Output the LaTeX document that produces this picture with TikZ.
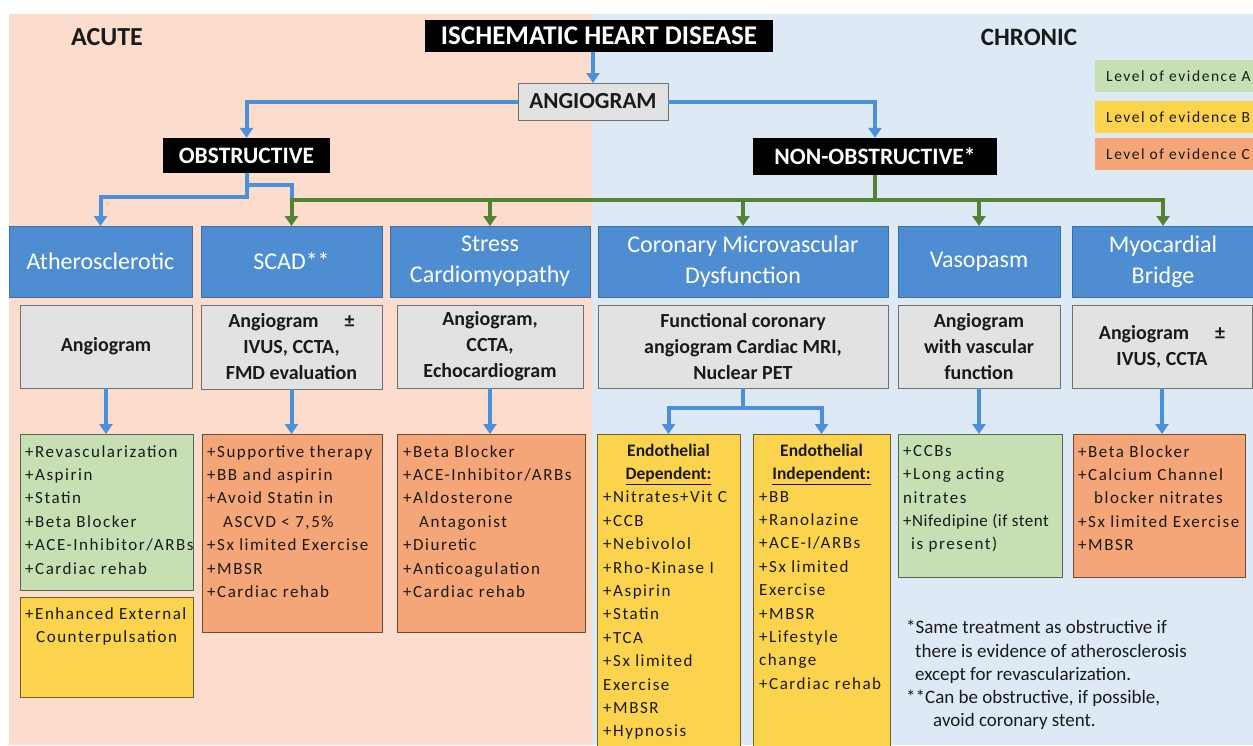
\documentclass[tikz,border=0pt]{standalone}
\usepackage{fontspec}
\setmainfont{Carlito}
\newfontfamily\trtfont[LetterSpace=9]{Carlito}
\newfontfamily\trttight[LetterSpace=3]{Carlito}
\newfontfamily\legfont[LetterSpace=10]{Carlito}
\usetikzlibrary{arrows.meta}
\definecolor{peach}{HTML}{FBDCCD}
\definecolor{skyb}{HTML}{DDEAF6}
\definecolor{catblue}{HTML}{4F8DD3}
\definecolor{catedge}{HTML}{3D6FA6}
\definecolor{methgray}{HTML}{E2E2E2}
\definecolor{methedge}{HTML}{707070}
\definecolor{lvA}{HTML}{C6E0B4}
\definecolor{lvB}{HTML}{FBD34D}
\definecolor{lvC}{HTML}{F4A678}
\definecolor{arblue}{HTML}{4A90DA}
\definecolor{argreen}{HTML}{548235}
\definecolor{ink}{HTML}{1A1A1A}
\begin{document}
\begin{tikzpicture}[x=1pt,y=-1pt,
  box/.style={anchor=north west, inner sep=0pt, outer sep=0pt, draw, line width=0.8pt},
  cat/.style={box, fill=catblue, draw=catedge, text=white, align=center, font=\fontsize{24}{31}\selectfont},
  meth/.style={box, fill=methgray, draw=methedge, text=ink, align=center, font=\bfseries\fontsize{20}{26}\selectfont},
  blk/.style={fill=black, text=white, inner sep=0pt, font=\bfseries\fontsize{23.5}{26}\selectfont},
  boxA/.style={box, fill=lvA, draw=lvA!45!black},
  boxB/.style={box, fill=lvB, draw=lvB!45!black},
  boxC/.style={box, fill=lvC, draw=lvC!45!black},
  legbox/.style={anchor=north west, inner sep=0pt, minimum width=158, minimum height=32},
  legtxt/.style={anchor=west, inner sep=0pt, text=ink, font=\legfont\fontsize{15.5}{18}\selectfont},
  txt/.style={anchor=north west, inner sep=0pt, align=left, text=ink, font=\trtfont\fontsize{17}{23.4}\selectfont},
  hdr/.style={anchor=north, inner sep=0pt, align=center, text=ink, font=\bfseries\fontsize{17.5}{23.4}\selectfont},
  bline/.style={draw=arblue, line width=4pt},
  barrow/.style={bline, -{Triangle[length=10pt,width=13pt]}},
  gline/.style={draw=argreen, line width=4pt},
  garrow/.style={gline, -{Triangle[length=10pt,width=13pt]}},
]
\useasboundingbox (0,0) rectangle (1253,745);
\fill[white] (0,0) rectangle (1253,745);
\fill[peach] (9,14) rectangle (592,745);
\fill[skyb] (592,14) rectangle (1253,745);

% headings
\node[text=ink, font=\bfseries\fontsize{26}{30}\selectfont] (acute) at (107,37) {ACUTE};
\node[text=ink, font=\bfseries\fontsize{25}{30}\selectfont] (chronic) at (1029,37) {CHRONIC};
\node[blk, minimum width=348, minimum height=32, font=\bfseries\fontsize{27}{30}\selectfont] (title) at (599,36) {ISCHEMATIC HEART DISEASE};
\node[meth, minimum width=150, minimum height=37, font=\bfseries\fontsize{23}{26}\selectfont] (angio) at (518,83) {ANGIOGRAM};
\node[blk, minimum width=167, minimum height=35] (obs) at (246.5,155.5) {OBSTRUCTIVE};
\node[blk, minimum width=244, minimum height=37] (nonobs) at (875,156.5) {NON-OBSTRUCTIVE*};

% legend
\node[legbox, fill=lvA] (legA) at (1095,60) {};
\node[legtxt] (legAt) at (1106,76) {Level of evidence A};
\node[legbox, fill=lvB] (legB) at (1095,101) {};
\node[legtxt] (legBt) at (1106,117) {Level of evidence B};
\node[legbox, fill=lvC] (legC) at (1095,138) {};
\node[legtxt] (legCt) at (1106,154) {Level of evidence C};

% categories
\node[cat, minimum width=183, minimum height=71] (ath) at (9,226) {Atherosclerotic};
\node[cat, minimum width=181, minimum height=71] (scad) at (201,226) {SCAD**};
\node[cat, minimum width=200, minimum height=71] (stress) at (390,226) {Stress\\Cardiomyopathy};
\node[cat, minimum width=290, minimum height=71] (cmd) at (598,226) {Coronary Microvascular\\Dysfunction};
\node[cat, minimum width=162, minimum height=71] (vaso) at (898,226) {Vasopasm};
\node[cat, minimum width=182, minimum height=71] (myo) at (1072,226) {Myocardial\\Bridge};

% methods
\node[meth, minimum width=172, minimum height=83] (athM) at (20,305) {Angiogram};
\node[meth, minimum width=181, minimum height=84] (scadM) at (201,305) {Angiogram\hspace{1.3em}±\\IVUS, CCTA,\\FMD evaluation};
\node[meth, minimum width=186, minimum height=83] (stressM) at (397,305) {Angiogram,\\CCTA,\\Echocardiogram};
\node[meth, minimum width=290, minimum height=83] (cmdM) at (598,305) {Functional coronary\\angiogram Cardiac MRI,\\Nuclear PET};
\node[meth, minimum width=162, minimum height=83] (vasoM) at (898,305) {Angiogram\\with vascular\\function};
\node[meth, minimum width=180, minimum height=83] (myoM) at (1072,305) {Angiogram\hspace{1.3em}±\\IVUS, CCTA};

% treatments
\node[boxA, minimum width=173, minimum height=156] (athG) at (20,434) {};
\node[txt] (athGt) at (25,445) {+Revascularization\\+Aspirin\\+Statin\\+Beta Blocker\\+ACE-Inhibitor/ARBs\\+Cardiac rehab};
\node[boxB, minimum width=173, minimum height=100] (athY) at (20,597) {};
\node[txt] (athYt) at (25,607) {+Enhanced External\\\hspace*{11pt}Counterpulsation};
\node[boxC, minimum width=180, minimum height=198] (scadO) at (202,434) {};
\node[txt] (scadOt) at (207,445) {+Supportive therapy\\+BB and aspirin\\+Avoid Statin in\\\hspace*{16pt}ASCVD < 7,5\%\\+Sx limited Exercise\\+MBSR\\+Cardiac rehab};
\node[boxC, minimum width=188, minimum height=198] (stressO) at (397,434) {};
\node[txt] (stressOt) at (403,445) {+Beta Blocker\\+ACE-Inhibitor/ARBs\\+Aldosterone\\\hspace*{16pt}Antagonist\\+Diuretic\\+Anticoagulation\\+Cardiac rehab};
\node[boxB, minimum width=143, minimum height=313] (edep) at (597,434) {};
\node[hdr] (edepH) at (668.5,444) {Endothelial\\\underline{Dependent:}};
\node[txt] (edept) at (603,491) {+Nitrates+Vit C\\+CCB\\+Nebivolol\\+Rho-Kinase I\\+Aspirin\\+Statin\\+TCA\\+Sx limited\\Exercise\\+MBSR\\+Hypnosis};
\node[boxB, minimum width=137, minimum height=313] (eind) at (753,434) {};
\node[hdr] (eindH) at (821.5,444) {Endothelial\\\underline{Independent:}};
\node[txt] (eindt) at (759,491) {+BB\\+Ranolazine\\+ACE-I/ARBs\\+Sx limited\\Exercise\\+MBSR\\+Lifestyle\\change\\+Cardiac rehab};
\node[boxA, minimum width=164, minimum height=143] (vasoG) at (898,434) {};
\node[txt] (vasoGt) at (903,445) {+CCBs\\+Long acting\\nitrates\\{\trttight\fontsize{17}{23.4}\selectfont +Nifedipine (if stent}\\\hspace*{8pt}is present)};
\node[boxC, minimum width=172, minimum height=143] (myoO) at (1073,434) {};
\node[txt] (myoOt) at (1078,445) {+Beta Blocker\\+Calcium Channel\\\hspace*{16pt}blocker nitrates\\+Sx limited Exercise\\+MBSR};

% footnote
\node[anchor=north west, inner sep=0pt, align=left, text=ink, font=\fontsize{19}{23.3}\selectfont] (note) at (906,620) {*Same treatment as obstructive if\\\hspace*{9pt}there is evidence of atherosclerosis\\\hspace*{9pt}except for revascularization.\\**Can be obstructive, if possible,\\\hspace*{27pt}avoid coronary stent.};

% connectors
\coordinate (aj) at (0,197);
\coordinate (bj) at (0,185);
\coordinate (gl) at (0,200);
\coordinate (cj) at (0,408);
\draw[barrow] (angio.north |- title.south) -- (angio.north);
\draw[barrow] (angio.west) -| (obs.north);
\draw[barrow] (angio.east) -| (nonobs.north);
\draw[barrow] (obs.south) |- (aj -| ath.north) -- (ath.north);
\draw[bline] (obs.south) |- (bj -| scad.north) -- (gl -| scad.north);
\draw[gline] (nonobs.south) -- (nonobs.south |- gl);
\draw[gline] ([xshift=-2pt]gl -| scad.north) -- ([xshift=2pt]gl -| myo.north);
\foreach \n in {scad,stress,cmd,vaso,myo} \draw[garrow] (gl -| \n.north) -- (\n.north);
\draw[barrow] (athM.south) -- (athM.south |- athG.north);
\draw[barrow] (scadM.south) -- (scadM.south |- scadO.north);
\draw[barrow] (stressM.south) -- (stressM.south |- stressO.north);
\draw[barrow] (vasoM.south) -- (vasoM.south |- vasoG.north);
\draw[barrow] (myoM.south) -- (myoM.south |- myoO.north);
\draw[bline] (cmdM.south) -- (cmdM.south |- cj);
\draw[bline] ([xshift=-2pt]cj -| edep.north) -- ([xshift=2pt]cj -| eind.north);
\draw[barrow] (cj -| edep.north) -- (edep.north);
\draw[barrow] (cj -| eind.north) -- (eind.north);
\end{tikzpicture}
\end{document}
